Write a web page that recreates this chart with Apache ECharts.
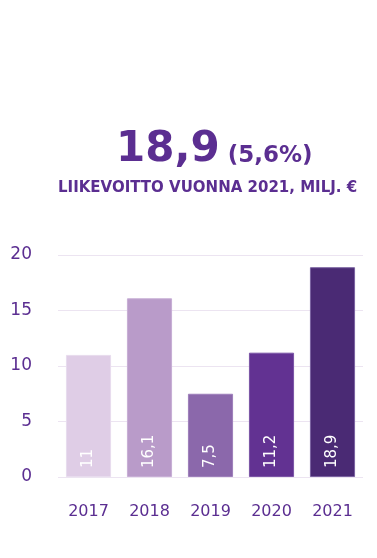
<!DOCTYPE html>
<html><head><meta charset="utf-8">
<script src="https://cdn.jsdelivr.net/npm/echarts@6/dist/echarts.min.js"></script>
<style>html,body{margin:0;padding:0;background:#fff}#c{width:377px;height:558px}</style>
</head><body><div id="c"></div>
<script>
const categories = ['2017','2018','2019','2020','2021'];
const values = [11, 16.1, 7.5, 11.2, 18.9];
const valueLabels = ['11','16,1','7,5','11,2','18,9'];
const barColors = ['#dfcde6','#b99bc9','#8b68ab','#623292','#4a2a74'];
const borderColors = ['#e8dcee','#c7aed5','#9d7fba','#7b55a6','#7a62a0'];
const yTicks = [0,5,10,15,20];

const purple = '#5b2e91';
const chart = echarts.init(document.getElementById('c'));
chart.setOption({
  animation:false,
  grid:{left:58,right:14,top:255,bottom:81},
  graphic:[
    {type:'text',left:116,top:129,style:{
      text:'{a|18,9}{b|(5,6%)}',
      rich:{
        a:{fontSize:42,fontWeight:900,fill:purple,fontFamily:'DejaVu Sans',verticalAlign:'bottom',padding:[0,8,0,0]},
        b:{fontSize:23,fontWeight:'bold',fill:purple,fontFamily:'DejaVu Sans',verticalAlign:'bottom',padding:[0,0,3,0]}
      }}},
    {type:'text',left:58,top:181,style:{text:'LIIKEVOITTO VUONNA 2021, MILJ. €',fontSize:15,fontWeight:'bold',fill:purple,fontFamily:'DejaVu Sans'}}
  ],
  xAxis:{type:'category',data:categories,
    axisLine:{show:false},axisTick:{show:false},
    axisLabel:{color:purple,fontSize:16,margin:27,fontFamily:'DejaVu Sans'}},
  yAxis:{type:'value',min:0,max:20,interval:5,
    axisLabel:{color:purple,fontSize:17,margin:26,fontFamily:'DejaVu Sans',
      formatter:v=>yTicks.includes(v)?String(v):''},
    splitLine:{lineStyle:{color:'#ece4f1',width:1}}},
  series:[{type:'bar',barCategoryGap:'26%',
    data:values.map((v,i)=>({value:v,itemStyle:{color:barColors[i],borderColor:borderColors[i],borderWidth:1}})),
    label:{show:true,position:'insideBottom',rotate:90,align:'left',verticalAlign:'middle',distance:9,
      color:'#fff',fontSize:15,fontFamily:'DejaVu Sans',
      formatter:p=>valueLabels[p.dataIndex]}
  }]
});
</script></body></html>
